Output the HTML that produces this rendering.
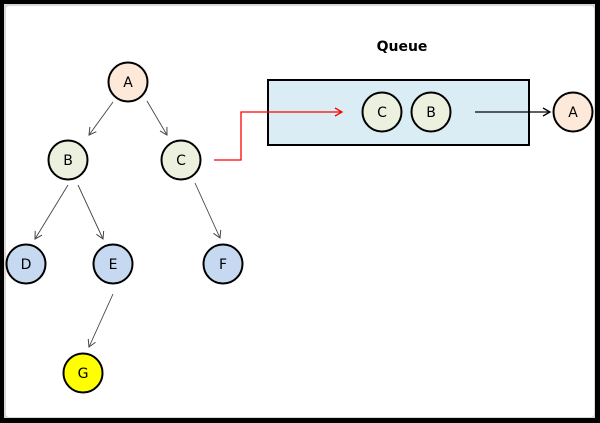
<!DOCTYPE html>
<html><head><meta charset="utf-8"><style>
html,body{margin:0;padding:0;background:#000;}
svg{display:block;}
text{font-family:"DejaVu Sans","Liberation Sans",sans-serif;font-size:14px;}
</style></head><body>
<svg width="600" height="423" viewBox="0 0 600 423" xmlns="http://www.w3.org/2000/svg">
<defs>
<marker id="ag" markerWidth="10" markerHeight="10" refX="8" refY="5" orient="auto" markerUnits="userSpaceOnUse"><path d="M1,1 L8,5 L1,9" fill="none" stroke="#444" stroke-width="1"/></marker>
<marker id="ar" markerWidth="10" markerHeight="10" refX="8" refY="5" orient="auto" markerUnits="userSpaceOnUse"><path d="M1,1 L8,5 L1,9" fill="none" stroke="#f00" stroke-width="1.3"/></marker>
<marker id="ab" markerWidth="10" markerHeight="10" refX="8" refY="5" orient="auto" markerUnits="userSpaceOnUse"><path d="M1,1 L8,5 L1,9" fill="none" stroke="#000" stroke-width="1.3"/></marker>
</defs>
<rect x="0" y="0" width="600" height="423" fill="#000"/>
<rect x="4" y="4" width="591" height="414" fill="#d8d8d8"/>
<rect x="6" y="6" width="588" height="411" rx="3" fill="#fff"/>

<g stroke="#444" stroke-width="0.9" fill="none" marker-end="url(#ag)">
<line x1="113" y1="102" x2="89" y2="135"/>
<line x1="147" y1="101" x2="167" y2="135"/>
<line x1="68" y1="185" x2="35" y2="239"/>
<line x1="78" y1="185" x2="103" y2="239"/>
<line x1="195" y1="183" x2="220" y2="238"/>
<line x1="113" y1="294" x2="89" y2="347"/>
</g>

<rect x="268" y="80" width="261" height="65" fill="#daedf4" stroke="#000" stroke-width="2"/>
<text x="402" y="51" text-anchor="middle" font-weight="bold">Queue</text>

<polyline points="214,160 241,160 241,112 342,112" fill="none" stroke="#f00" stroke-width="1.3" marker-end="url(#ar)"/>
<line x1="475" y1="112" x2="550" y2="112" stroke="#000" stroke-width="1.3" marker-end="url(#ab)"/>

<g stroke="#000" stroke-width="2">
<circle cx="128" cy="82" r="19.5" fill="#fde9d9"/>
<circle cx="68" cy="160" r="19.5" fill="#ebf1de"/>
<circle cx="181" cy="160" r="19.5" fill="#ebf1de"/>
<circle cx="26" cy="264" r="19.5" fill="#c6d9f1"/>
<circle cx="113" cy="264" r="19.5" fill="#c6d9f1"/>
<circle cx="223" cy="264" r="19.5" fill="#c6d9f1"/>
<circle cx="83" cy="373" r="19.5" fill="#ffff00"/>
<circle cx="382" cy="112" r="19.5" fill="#ebf1de"/>
<circle cx="431" cy="112" r="19.5" fill="#ebf1de"/>
<circle cx="573" cy="112" r="19.5" fill="#fde9d9"/>
</g>
<g text-anchor="middle" fill="#000">
<text x="128" y="87">A</text>
<text x="68" y="165">B</text>
<text x="181" y="165">C</text>
<text x="26" y="269">D</text>
<text x="113" y="269">E</text>
<text x="223" y="269">F</text>
<text x="83" y="378">G</text>
<text x="382" y="117">C</text>
<text x="431" y="117">B</text>
<text x="573" y="117">A</text>
</g>
</svg>
</body></html>
